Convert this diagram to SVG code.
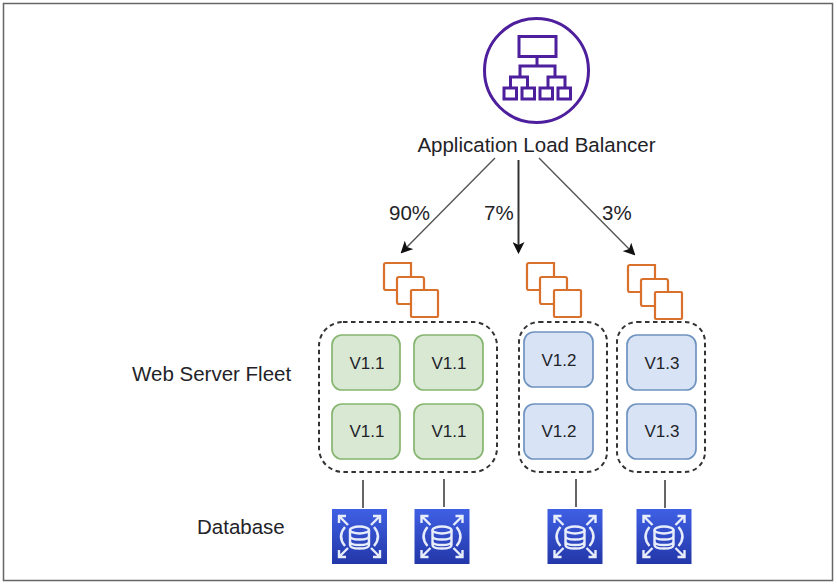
<svg xmlns="http://www.w3.org/2000/svg" xmlns:xlink="http://www.w3.org/1999/xlink" width="837" height="584" viewBox="0 0 837 584">
<style>
text{font-family:"Liberation Sans",Arial,sans-serif;fill:#1f2328}
.lbl{font-size:20.500px}
.v{font-size:17px;text-anchor:middle}
.fleet{fill:none;stroke:#333;stroke-width:2;stroke-dasharray:4.500 3.500}
.g{fill:#d8e8d3;stroke:#86b56f;stroke-width:1.700}
.b{fill:#d8e4f5;stroke:#6f93c0;stroke-width:1.700}
.o{fill:#fff;stroke:#d9702c;stroke-width:2.200}
.c{fill:none;stroke:#555;stroke-width:1.400}
.l{stroke:#666;stroke-width:2}
.p{fill:none;stroke:#4d1f9c;stroke-width:3}
.w{fill:none;stroke:#e8edfb;stroke-width:2.400}
</style>
<defs>
<marker id="arr" viewBox="0 0 12 12" refX="10" refY="6" markerWidth="12" markerHeight="12" markerUnits="userSpaceOnUse" orient="auto"><path d="M0 0L12 6L0 12L3 6Z" fill="#111"/></marker>
<linearGradient id="db" x1="0" y1="0" x2="0" y2="1"><stop offset="0" stop-color="#3f60e4"/><stop offset="1" stop-color="#2337a8"/></linearGradient>
<g id="stack">
<path class="o" d="M0 25V2Q0 0 2 0H27V27H2Q0 27 0 25Z"/>
<rect class="o" x="13" y="14" width="27" height="27" rx="2"/>
<rect class="o" x="27" y="27" width="27" height="27" rx="1"/>
</g>
<g id="dbicon">
<rect width="55" height="55" fill="url(#db)"/>
<g class="w">
<ellipse cx="27.500" cy="21" rx="9.500" ry="3.500"/>
<path d="M18 21V36Q18 39.500 27.500 39.500T37 36V21M18 27Q18 30.500 27.500 30.500T37 27M18 32.500Q18 36 27.500 36T37 32.500"/>
<path d="M13 18Q5 27.500 13 37M42 18Q50 27.500 42 37"/>
<path d="M7 7L16 16M7 14V7H14M48 7L39 16M48 14V7H41M7 48L16 39M7 41V48H14M48 48L39 39M48 41V48H41"/>
</g>
</g>
</defs>
<rect width="837" height="584" fill="#fff"/>
<rect x="3.500" y="3.500" width="829" height="577" fill="none" stroke="#666" stroke-width="1.500"/>

<g id="alb">
<circle class="p" cx="536.500" cy="70.500" r="52"/>
<rect class="p" x="519" y="36.500" width="37" height="20"/>
<path class="p" d="M537 56.500V66M520 77V66H555V77M510.500 88V77H527.500V88M548 88V77H565V88"/>
<rect class="p" x="504" y="88" width="12.500" height="11"/>
<rect class="p" x="522" y="88" width="12.500" height="11"/>
<rect class="p" x="540" y="88" width="12.500" height="11"/>
<rect class="p" x="558" y="88" width="12.500" height="11"/>
<text class="lbl" x="536.500" y="152" text-anchor="middle">Application Load Balancer</text>
</g>

<g id="connectors">
<line class="c" x1="495" y1="158" x2="402" y2="252" marker-end="url(#arr)"/>
<line class="c" x1="518.500" y1="160" x2="518.500" y2="252" style="stroke:#333;stroke-width:2" marker-end="url(#arr)"/>
<line class="c" x1="539" y1="158" x2="634" y2="254" marker-end="url(#arr)"/>
<line class="l" x1="363" y1="480" x2="363" y2="508"/>
<line class="l" x1="444" y1="479" x2="444" y2="507"/>
<line class="l" x1="576" y1="479" x2="576" y2="507"/>
<line class="l" x1="665" y1="480" x2="665" y2="508"/>
</g>

<g id="pct-90"><text class="lbl" x="389" y="220">90%</text></g>
<g id="pct-7"><text class="lbl" x="484" y="220">7%</text></g>
<g id="pct-3"><text class="lbl" x="602" y="220">3%</text></g>

<g id="stack-1"><use xlink:href="#stack" href="#stack" x="384" y="263"/></g>
<g id="stack-2"><use xlink:href="#stack" href="#stack" x="527" y="263"/></g>
<g id="stack-3"><use xlink:href="#stack" href="#stack" x="628" y="265"/></g>

<g id="fleet-1"><rect class="fleet" x="319" y="322" width="178" height="150" rx="24"/></g>
<g id="fleet-2"><rect class="fleet" x="519" y="322" width="88" height="150" rx="20"/></g>
<g id="fleet-3"><rect class="fleet" x="617" y="322" width="88" height="150" rx="20"/></g>

<g id="v11a"><rect class="g" x="332" y="335" width="68" height="55" rx="10"/><text class="v" x="367" y="369">V1.1</text></g>
<g id="v11b"><rect class="g" x="414" y="335" width="69" height="55" rx="10"/><text class="v" x="449" y="369">V1.1</text></g>
<g id="v11c"><rect class="g" x="332" y="404" width="68" height="55" rx="10"/><text class="v" x="367" y="437">V1.1</text></g>
<g id="v11d"><rect class="g" x="414" y="404" width="69" height="55" rx="10"/><text class="v" x="449" y="437">V1.1</text></g>
<g id="v12a"><rect class="b" x="524" y="332" width="69" height="55" rx="10"/><text class="v" x="559" y="366">V1.2</text></g>
<g id="v12b"><rect class="b" x="524" y="404" width="69" height="55" rx="10"/><text class="v" x="559" y="437">V1.2</text></g>
<g id="v13a"><rect class="b" x="627" y="335" width="69" height="55" rx="10"/><text class="v" x="662" y="369">V1.3</text></g>
<g id="v13b"><rect class="b" x="627" y="404" width="69" height="55" rx="10"/><text class="v" x="662" y="437">V1.3</text></g>

<g id="label-fleet"><text class="lbl" x="132" y="381">Web Server Fleet</text></g>
<g id="label-db"><text class="lbl" x="197" y="534">Database</text></g>

<g id="db1"><use xlink:href="#dbicon" href="#dbicon" x="332" y="509"/></g>
<g id="db2"><use xlink:href="#dbicon" href="#dbicon" x="414.500" y="509"/></g>
<g id="db3"><use xlink:href="#dbicon" href="#dbicon" x="547.500" y="509"/></g>
<g id="db4"><use xlink:href="#dbicon" href="#dbicon" x="636.500" y="509"/></g>
</svg>
